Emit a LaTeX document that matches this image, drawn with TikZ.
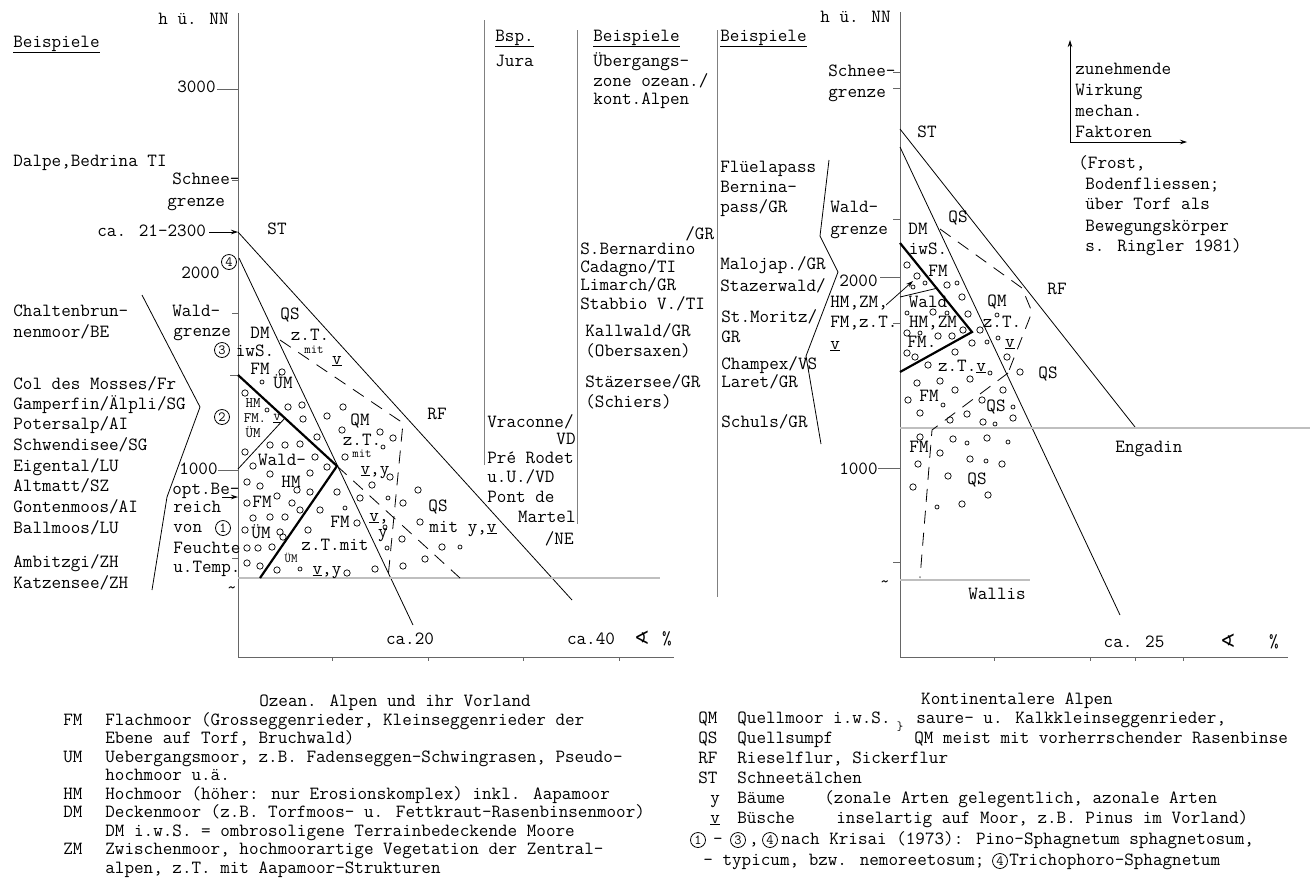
\documentclass[tikz,border=0pt]{standalone}
\usepackage{fontspec}
\newfontfamily\symfont{DejaVu Sans}
\usetikzlibrary{arrows.meta}

\tikzset{every picture/.style={line width=0.75pt}}
\tikzset{
  lw/.style={anchor=west,inner sep=0pt,text height=11pt,text depth=3pt,font=\ttfamily\fontsize{18.6}{20}\selectfont},
  lc/.style={lw,anchor=center},
  le/.style={lw,anchor=east},
  sm/.style={font=\ttfamily\fontsize{12.5}{13}\selectfont,text height=7pt,text depth=1pt},
  md/.style={font=\ttfamily\fontsize{14.5}{15}\selectfont,text height=8pt,text depth=1pt},
  axis/.style={draw=black!60,line width=0.9pt},
  ruler/.style={draw=black!50,line width=0.8pt},
  thickline/.style={line width=2.2pt},
  thinline/.style={line width=0.8pt},
  dashline/.style={line width=0.8pt,dash pattern=on 13pt off 9pt},
  ground/.style={draw=black!65,double=black!25,double distance=1.2pt,line width=0.7pt},
  dot/.style={line width=0.7pt},
  circnum/.style={draw,circle,inner sep=0pt,minimum size=15pt,line width=0.8pt,font=\ttfamily\fontsize{14}{14}\selectfont},
  tip/.style={-{Stealth[length=7pt,width=4.5pt]}},
}

\begin{document}
\begin{tikzpicture}[x=1pt,y=1pt,yscale=-1,xscale=1]
\useasboundingbox (0,0) rectangle (1314,879);
\fill[white] (0,0) rectangle (1314,879);

%%%%%%%%%%%%%%%% left diagram: ozean. Alpen
%Axes
\draw[axis] (238,13) -- (238,657) -- (674,657);
\foreach \tx in {332,428,523,619} \draw[axis] (\tx,657) -- (\tx,661);
%Ticks on height axis
\draw[axis] (217,89) -- (238,89);
\draw[axis] (232,180) -- (238,180);
\draw[axis] (232,313) -- (238,313);
\draw[axis] (230,375) -- (238,375);
\draw[axis] (218,470) -- (238,470);
\draw[axis] (232,558) -- (238,558);
%Coordinates
\coordinate (stL) at (238,232);
\coordinate (stLend) at (572,600);
\coordinate (qsL) at (239,258);
\coordinate (qsLend) at (413,625);
\coordinate (optL) at (238,497);
%Straight Lines
\draw[thinline] (stL) -- (stLend);
\draw[thinline] (qsL) -- (qsLend);
%Ground line
\draw[ground] (238,578) -- (660,578);
%Thick border of the moor zone
\draw[thickline] (238,375) -- (337,466) -- (260,578);
\draw[thinline] (238,469) -- (285,418);
%Dashed borders
\draw[dashline] (280,340) -- (403,423) -- (388,578);
\draw[dashline] (337,466) -- (460,578);
%Separator of examples
\draw[thinline] (142,295) -- (200,407) -- (167,497) -- (152,590);
%Circles
\foreach \px/\py in {282/372,245/393,302/405,288/407,343/407,327/416,303/419,317/437,342/430,380/432,
  393/438,270/445,285/445,300/444,245/452,253/466,315/457,327/467,345/457,270/474,310/473,247/482,
  260/486,297/490,277/496,310/492,337/492,372/485,390/477,247/503,292/503,360/498,320/510,403/503,
  418/490,253/518,270/517,285/517,300/510,308/530,245/530,280/532,357/523,420/522,402/539,247/548,
  258/548,272/547,283/537,442/547,425/559,403/566,375/569,347/573,277/570,247/563,260/566}
  \draw[dot] (\px,\py) circle[radius=3.2pt];
\foreach \px/\py in {262/382,267/410,383/447,345/508,388/498,460/547,387/548,385/527,300/569}
  \draw[dot] (\px,\py) circle[radius=2pt];

% Text Node
\node[lw] (hnnL) at (158,20) {h ü. NN};
\node[lw] (bspL) at (13,43) {\underline{Beispiele}};
\node[le] (h3000) at (216,88) {3000};
\node[lw] (dalpe) at (13,162) {Dalpe,Bedrina TI};
\node[lw] (schneeL) at (172,180) {Schnee-};
\node[lw] (grenzeL) at (167,202) {grenze};
\node[lw] (ca2300) at (97,232) {ca. 21-2300};
\draw[tip] (ca2300.east) ++(3,0) -- (stL);
\node[lc] (stlblL) at (277,230) {ST};
\node[circnum] (c4L) at (229,262) {4};
\node[le] (h2000L) at (220,274) {2000};
\node[lw] (chalt) at (13,312) {Chaltenbrun-};
\node[lw] (chalt2) at (13,333) {nenmoor/BE};
\node[lw] (waldL) at (172,312) {Wald-};
\node[lw] (waldL2) at (173,332) {grenze};
\node[lw] (colmos) at (13,385) {Col des Mosses/Fr};
\node[lw] (gamp) at (13,405) {Gamperfin/Älpli/SG};
\node[lw] (poter) at (13,425) {Potersalp/AI};
\node[lw] (schwen) at (13,446) {Schwendisee/SG};
\node[lw] (eigen) at (13,467) {Eigental/LU};
\node[lw] (altm) at (13,487) {Altmatt/SZ};
\node[lw] (gonten) at (13,508) {Gontenmoos/AI};
\node[lw] (ballm) at (13,529) {Ballmoos/LU};
\node[lw] (ambi) at (13,563) {Ambitzgi/ZH};
\node[lw] (katz) at (13,584) {Katzensee/ZH};
\node[le] (h1000L) at (218,470) {1000};
\node[lw] (optbe) at (172,490) {opt.Be-};
\draw[tip] (222,497) -- (optL);
\node[lw] (reich) at (173,508) {reich};
\node[lw] (von) at (173,528) {von};
\node[lw] (feucht) at (173,549) {Feuchte};
\node[lw] (utemp) at (173,568) {u.Temp.};
\node[lc] (tildeL) at (232,589) {\char`\~};
\node[circnum] (c3L) at (222,350) {3};
\node[circnum] (c2L) at (222,417) {2};
\node[circnum] (c1L) at (223,528) {1};
\node[lc] (qsL1) at (290,315) {QS};
\node[lc] (dmL) at (260,334) {DM};
\node[lc] (iwsL) at (255,352) {iwS.};
\node[lc] (ztL1) at (310,336) {z.T.};
\node[lc,sm] (mitL1) at (314,350) {mit};
\node[lc] (vL1) at (337,360) {\underline{v}};
\node[lc] (fmL1) at (260,370) {FM};
\node[lc] (umL1) at (283,384) {ÜM};
\node[lc,md] (hmL1) at (253,404) {HM};
\node[lc,md] (fmL2) at (255,419) {FM.};
\node[lc,md] (vL2) at (277,417) {\underline{v}};
\node[lc,md] (umL2) at (253,434) {ÜM};
\node[lc] (waldL3) at (282,461) {Wald-};
\node[lc] (hmL2) at (291,483) {HM};
\node[lc] (fmL3) at (262,503) {FM};
\node[lc] (umL3) at (261,534) {ÜM};
\node[lc] (ztmitL) at (335,546) {z.T.mit};
\node[lc,sm] (umL4) at (291,559) {ÜM};
\node[lc] (vyL1) at (327,570) {\underline{v},y};
\node[lc] (fmL4) at (340,523) {FM};
\node[lc] (qmL) at (360,421) {QM};
\node[lc] (ztL2) at (362,441) {z.T.};
\node[lc,sm] (mitL2) at (362,454) {mit};
\node[lc] (vyL2) at (375,470) {\underline{v},y};
\node[lc] (vL3) at (379,517) {\underline{v},};
\node[lc] (yL) at (383,533) {y};
\node[lc] (qsL2) at (438,507) {QS};
\node[lc] (mityv) at (463,528) {mit y,\underline{v}};
\node[lc] (rfL) at (437,415) {RF};
\node[lc] (ca20) at (410,640) {ca.20};
\node[lc] (ca40) at (591,640) {ca.40};
\node[lc] (angL) at (642,640) {\symfont ∢};
\node[lc] (pctL) at (667,640) {\%};

%%%%%%%%%%%%%%%% middle columns
\draw[ruler] (484,20) -- (484,465);
\draw[ruler] (577,30) -- (577,524);
\draw[ruler] (717,30) -- (717,597);
\draw[thinline] (829,160) -- (820,236) -- (838,272) -- (806,356) -- (821,444);
% Text Node
\node[lw] (bspM) at (495,37) {\underline{Bsp.}};
\node[lw] (jura) at (495,62) {Jura};
\node[lw] (bspM2) at (593,37) {\underline{Beispiele}};
\node[lw] (ueber) at (593,62) {Übergangs-};
\node[lw] (ueber2) at (593,82) {zone ozean./};
\node[lw] (ueber3) at (593,100) {kont.Alpen};
\node[lw] (sbern) at (580,250) {S.Bernardino};
\node[lw] (sbern2) at (685,235) {/GR};
\node[lw] (cadag) at (580,268) {Cadagno/TI};
\node[lw] (limar) at (580,286) {Limarch/GR};
\node[lw] (stabb) at (580,305) {Stabbio V./TI};
\node[lw] (kallw) at (585,332) {Kallwald/GR};
\node[lw] (obers) at (585,352) {(Obersaxen)};
\node[lw] (staez) at (585,383) {Stäzersee/GR};
\node[lw] (schier) at (585,403) {(Schiers)};
\node[lw] (vracon) at (487,423) {Vraconne/};
\node[le] (vd) at (576,440) {VD};
\node[lw] (prerod) at (487,459) {Pré Rodet};
\node[lw] (uuvd) at (487,478) {u.U./VD};
\node[lw] (pontde) at (487,498) {Pont de};
\node[le] (martel) at (576,518) {Martel};
\node[le] (ne) at (574,540) {/NE};
\node[lw] (bspR) at (720,37) {\underline{Beispiele}};
\node[lw] (fluela) at (720,168) {Flüelapass};
\node[lw] (bern) at (720,188) {Bernina-};
\node[lw] (bern2) at (720,208) {pass/GR};
\node[lw] (maloja) at (720,265) {Malojap./GR};
\node[lw] (stazer) at (720,287) {Stazerwald/};
\node[lw] (stmor) at (721,318) {St.Moritz/};
\node[lw] (stmor2) at (721,338) {GR};
\node[lw] (champ) at (721,365) {Champex/VS};
\node[lw] (laret) at (721,383) {Laret/GR};
\node[lw] (schuls) at (721,423) {Schuls/GR};

%%%%%%%%%%%%%%%% right diagram: kontinentalere Alpen
\draw[axis] (900,12) -- (900,657) -- (1288,657);
\foreach \tx in {994,1090,1135,1183} \draw[axis] (\tx,657) -- (\tx,661);
\draw[axis] (893,72) -- (900,72);
\draw[axis] (893,88) -- (900,88);
\draw[axis] (893,219) -- (900,219);
\draw[axis] (880,277) -- (900,277);
\draw[axis] (893,323) -- (900,323);
\draw[axis] (878,468) -- (900,468);
\draw[axis] (893,562) -- (900,562);
%Coordinates
\coordinate (stR) at (900,129);
\coordinate (stRend) at (1135,427);
\coordinate (qsR) at (900,147);
\coordinate (qsRend) at (1120,615);
%Straight Lines
\draw[thinline] (stR) -- (stRend);
\draw[thinline] (qsR) -- (qsRend);
\draw[ground] (900,428) -- (1310,428);
\draw[ground] (900,580) -- (1030,580);
\draw[thickline] (900,243) -- (972,332) -- (900,372);
\draw[thinline] (900,297) -- (938,288);
\draw[dashline] (940,229) -- (1022,288) -- (1032,312) -- (1008,373);
\draw[dashline] (1008,373) -- (932,430) -- (920,578);
%Circles
\foreach \px/\py in {907/265,917/276,947/285,962/297,933/312,968/314,907/333,938/336,952/336,963/330,
  980/330,972/343,907/353,915/357,955/352,928/365,1007/357,1020/372,917/383,940/381,970/379,955/390,
  1003/390,908/400,982/400,920/413,967/414,1013/418,950/420,983/422,920/437,953/439,987/438,940/453,
  970/459,1002/464,918/464,948/476,913/487,988/495,962/504}
  \draw[dot] (\px,\py) circle[radius=3.2pt];
\foreach \px/\py in {913/287,925/283,957/283,947/313,907/313,920/333,987/342,998/338,997/315,990/373,
  943/405,1013/407,995/424,967/443,1008/442,986/461,937/507}
  \draw[dot] (\px,\py) circle[radius=2pt];

% Text Node
\node[lw] (hnnR) at (820,18) {h ü. NN};
\node[lw] (schneeR) at (828,72) {Schnee-};
\node[lw] (grenzeR) at (828,93) {grenze};
\node[lc] (stlblR) at (927,133) {ST};
\node[lw] (waldR) at (830,208) {Wald-};
\node[lw] (waldR2) at (830,230) {grenze};
\node[le] (h2000R) at (878,282) {2000};
\node[lw] (hmzm) at (830,303) {HM,ZM,};
\node[lw] (fmzt) at (830,323) {FM,z.T.};
\node[lw] (vR0) at (830,345) {\underline{v}};
\coordinate (arrR) at (913,281);
\draw[tip] (886,305) -- (arrR);
\node[le] (h1000R) at (878,470) {1000};
\node[lc] (tildeR) at (885,583) {\char`\~};
\node[lc] (qsR1) at (958,218) {QS};
\node[lc] (dmR) at (918,230) {DM};
\node[lc] (iwsR) at (928,250) {iwS.};
\node[lc] (fmR1) at (938,272) {FM};
\node[lc] (waldR3) at (928,303) {Wald};
\node[lc] (hmzmR) at (933,323) {HM,ZM};
\node[lc] (fmR2) at (922,343) {FM.};
\node[lc] (ztvR) at (962,367) {z.T.\underline{v}};
\node[lc] (qmR) at (997,302) {QM};
\node[lc] (ztR) at (1002,323) {z.T.};
\node[lc] (vR) at (1010,343) {\underline{v}};
\node[lc] (qsR2) at (1048,374) {QS};
\node[lc] (rfR) at (1057,290) {RF};
\node[lc] (fmR3) at (929,397) {FM};
\node[lc] (qsR3) at (996,407) {QS};
\node[lc] (fmR4) at (919,448) {FM};
\node[lc] (qsR4) at (977,480) {QS};
\node[lc] (engadin) at (1149,448) {Engadin};
\node[lc] (wallis) at (997,595) {Wallis};
\node[lc] (ca25) at (1134,643) {ca. 25};
\node[lc] (angR) at (1228,643) {\symfont ∢};
\node[lc] (pctR) at (1274,643) {\%};

%Arrows: mechanical factors
\coordinate (mechO) at (1070,142);
\coordinate (mechUp) at (1070,40);
\coordinate (mechRt) at (1187,142);
\draw[tip] (mechO) -- (mechUp);
\draw[tip] (mechO) -- (mechRt);
\node[lw] (zun) at (1075,70) {zunehmende};
\node[lw] (wirk) at (1075,91) {Wirkung};
\node[lw] (mech) at (1075,112) {mechan.};
\node[lw] (fakt) at (1075,133) {Faktoren};
\node[lw] (frost) at (1078,164) {(Frost,};
\node[lw] (boden) at (1085,185) {Bodenfliessen;};
\node[lw] (torf) at (1085,205) {über Torf als};
\node[lw] (beweg) at (1085,227) {Bewegungskörper};
\node[lw] (ringl) at (1085,247) {s. Ringler 1981)};

%%%%%%%%%%%%%%%% legends
\node[lc] (ozean) at (395,702) {Ozean. Alpen und ihr Vorland};
\node[lw] (kFM) at (63,721) {FM};
\node[lw] (dFM) at (105,721) {Flachmoor (Grosseggenrieder, Kleinseggenrieder der};
\node[lw] (dFM2) at (105,739.5) {Ebene auf Torf, Bruchwald)};
\node[lw] (kUM) at (63,758) {UM};
\node[lw] (dUM) at (105,758) {Uebergangsmoor, z.B. Fadenseggen-Schwingrasen, Pseudo-};
\node[lw] (dUM2) at (105,776.5) {hochmoor u.ä.};
\node[lw] (kHM) at (63,795) {HM};
\node[lw] (dHM) at (105,795) {Hochmoor (höher: nur Erosionskomplex) inkl. Aapamoor};
\node[lw] (kDM) at (63,813.5) {DM};
\node[lw] (dDM) at (105,813.5) {Deckenmoor (z.B. Torfmoos- u. Fettkraut-Rasenbinsenmoor)};
\node[lw] (dDM2) at (105,832) {DM i.w.S. = ombrosoligene Terrainbedeckende Moore};
\node[lw] (kZM) at (63,850.5) {ZM};
\node[lw] (dZM) at (105,850.5) {Zwischenmoor, hochmoorartige Vegetation der Zentral-};
\node[lw] (dZM2) at (105,869) {alpen, z.T. mit Aapamoor-Strukturen};

\node[lc] (kont) at (1017,700) {Kontinentalere Alpen};
\node[lw] (kQM) at (698,719) {QM};
\node[lw] (dQM) at (737,719) {Quellmoor i.w.S.};
\node[lc,sm] (brace) at (900,727) {\}};
\node[lw] (dQM2) at (916,719) {saure- u. Kalkkleinseggenrieder,};
\node[lw] (kQS) at (698,739) {QS};
\node[lw] (dQS) at (737,739) {Quellsumpf};
\node[lw] (dQS2) at (914,739) {QM meist mit vorherrschender Rasenbinse};
\node[lw] (kRF) at (698,759) {RF};
\node[lw] (dRF) at (737,759) {Rieselflur, Sickerflur};
\node[lw] (kST) at (698,779) {ST};
\node[lw] (dST) at (737,779) {Schneetälchen};
\node[lw] (ky) at (710,799) {y};
\node[lw] (dy) at (737,799) {Bäume};
\node[lw] (dy2) at (824,799) {(zonale Arten gelegentlich, azonale Arten};
\node[lw] (kv) at (710,819) {\underline{v}};
\node[lw] (dv) at (737,819) {Büsche};
\node[lw] (dv2) at (836,819) {inselartig auf Moor, z.B. Pinus im Vorland)};
\node[circnum] (lc1) at (698,840) {1};
\node[lc] (lsep) at (718,840) {-};
\node[circnum] (lc3) at (738,840) {3};
\node[lc] (lcom) at (754,840) {,};
\node[circnum] (lc4) at (770,840) {4};
\node[lw] (dkris) at (781,840) {nach Krisai (1973): Pino-Sphagnetum sphagnetosum,};
\node[lw] (dtyp) at (703,861) {- typicum, bzw. nemoreetosum;};
\node[circnum] (lc4b) at (1000,861) {4};
\node[lw] (dtrich) at (1009,861) {Trichophoro-Sphagnetum};
\end{tikzpicture}
\end{document}
